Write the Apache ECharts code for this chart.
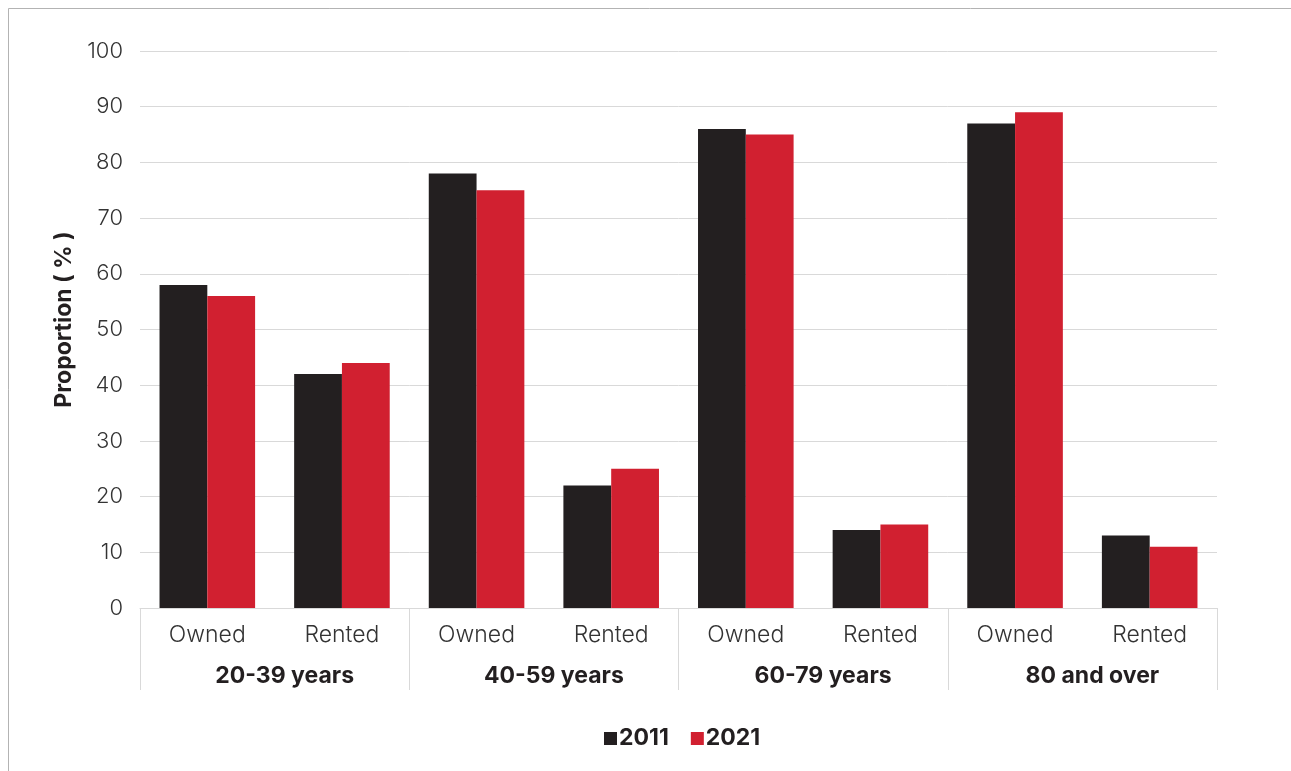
<!DOCTYPE html>
<html>
<head>
<meta charset="utf-8">
<script src="https://cdn.jsdelivr.net/npm/echarts@6/dist/echarts.min.js"></script>
<style>
html,body{margin:0;padding:0;background:#fff;}
#chart{width:1291px;height:771px;}
</style>
</head>
<body>
<div id="chart"></div>
<script>
const tenure = ['Owned','Rented','Owned','Rented','Owned','Rented','Owned','Rented'];
const ageGroups = ['20-39 years','40-59 years','60-79 years','80 and over'];
const values2011 = [58, 42, 78, 22, 86, 14, 87, 13];
const values2021 = [56, 44, 75, 25, 85, 15, 89, 11];
const yTicks = [0,10,20,30,40,50,60,70,80,90,100];

const FONT = 'Inter, "Noto Sans", sans-serif';
const chart = echarts.init(document.getElementById('chart'));
chart.setOption({
  backgroundColor: '#fff',
  animation: false,
  graphic: [
    {type:'line', shape:{x1:8.5,y1:8.5,x2:1291,y2:8.5}, style:{stroke:'#b3b3b3',lineWidth:1}},
    {type:'line', shape:{x1:8.5,y1:8.5,x2:8.5,y2:771}, style:{stroke:'#b3b3b3',lineWidth:1}}
  ],
  grid: {left:140, right:74, top:51, bottom:163, containLabel:false},
  legend: {
    bottom: 16, left: 599,
    itemWidth: 13, itemHeight: 13, itemGap: 22,
    icon: 'rect',
    textStyle: {fontFamily: FONT, fontSize: 23, fontWeight: 'bold', color:'#231f20', padding:[0,0,0,-3]},
    data: ['2011','2021']
  },
  xAxis: [
    {
      type:'category', data: tenure, position:'bottom',
      axisLine:{show:true, lineStyle:{color:'#d9d9d9', width:1}},
      axisTick:{show:false},
      axisLabel:{fontFamily:FONT, fontSize:23, fontWeight:300, color:'#333', margin:16}
    },
    {
      type:'category', data: ageGroups, position:'bottom',
      axisLine:{show:false},
      axisTick:{show:true, length:82, alignWithLabel:false, lineStyle:{color:'#d9d9d9'}},
      axisLabel:{fontFamily:FONT, fontSize:23, fontWeight:'bold', color:'#231f20', margin:57, padding:[0,0,0,20]}
    }
  ],
  yAxis: {
    type:'value', min:0, max:100, interval:10,
    name:'Proportion ( % )', nameLocation:'middle', nameGap:64, nameRotate:90,
    nameTextStyle:{fontFamily:FONT, fontSize:23, fontWeight:'bold', color:'#231f20', padding:[0,0,0,20]},
    axisLine:{show:false}, axisTick:{show:false},
    axisLabel:{fontFamily:FONT, fontSize:22, fontWeight:300, color:'#333', margin:17,
      formatter: v => yTicks.includes(v) ? String(v) : ''},
    splitLine:{lineStyle:{color:'#d9d9d9', width:1}}
  },
  series: [
    {name:'2011', type:'bar', data: values2011, xAxisIndex:0, barGap:'0%', barCategoryGap:'29%',
     itemStyle:{color:'#231f20'}},
    {name:'2021', type:'bar', data: values2021, xAxisIndex:0, barGap:'0%', barCategoryGap:'29%',
     itemStyle:{color:'#d12030'}}
  ]
});
</script>
</body>
</html>
